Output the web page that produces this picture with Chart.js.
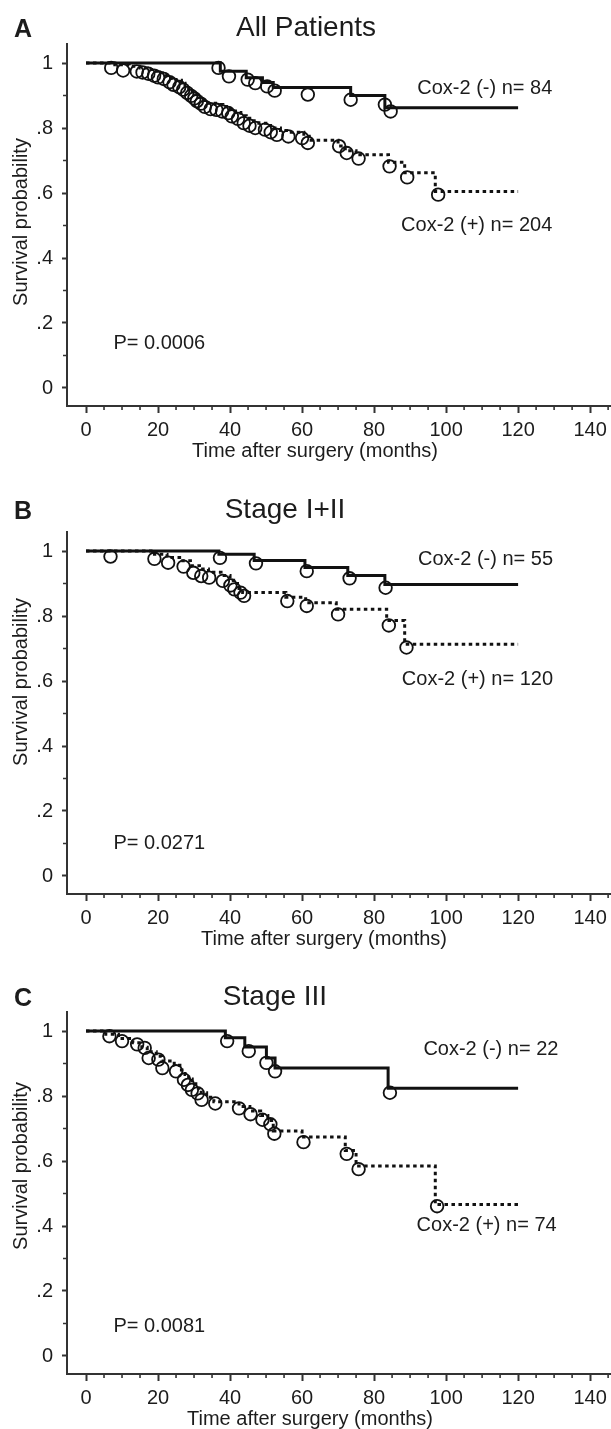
<!DOCTYPE html>
<html>
<head>
<meta charset="utf-8">
<script src="https://cdn.jsdelivr.net/npm/chart.js@4.4.1/dist/chart.umd.min.js"></script>
<style>
  html, body { margin: 0; padding: 0; background: #fff; }
  body { width: 611px; height: 1429px; position: relative; overflow: hidden; }
  .panel { position: absolute; left: 0; width: 611px; height: 461px; }
</style>
</head>
<body>
<div class="panel" style="top:0px"><canvas id="panelA" width="611" height="461"></canvas></div>
<div class="panel" style="top:488px"><canvas id="panelB" width="611" height="461"></canvas></div>
<div class="panel" style="top:968px"><canvas id="panelC" width="611" height="461"></canvas></div>
<script>
// Axis ticks
const timeTicks = [0, 20, 40, 60, 80, 100, 120, 140];
const survTicks = [0, 0.2, 0.4, 0.6, 0.8, 1];

// Panel A - All patients
const aNegTime = [0, 37.3, 44.5, 49, 52, 73.5, 83, 120];
const aNegSurv = [1, 0.975, 0.955, 0.94, 0.925, 0.90, 0.862, 0.862];
const aNegCensorTime = [36.8, 39.7, 44.9, 47.0, 50.3, 52.4, 61.6, 73.5, 83.0, 84.6];
const aNegCensorSurv = [0.985, 0.959, 0.949, 0.938, 0.928, 0.915, 0.903, 0.887, 0.872, 0.851];
const aPosTime = [0, 8, 12, 15, 17, 19, 20.5, 22, 23.5, 25, 26.5, 27.5, 28.5, 29.5, 30.5, 31.5, 32.5, 34, 36, 38, 40, 41.5, 43, 44.5, 46, 48, 50.5, 52, 54, 57, 60.5, 62, 70, 72, 75, 84, 88.5, 97, 120];
const aPosSurv = [1, 0.995, 0.99, 0.985, 0.98, 0.975, 0.97, 0.962, 0.955, 0.947, 0.938, 0.93, 0.92, 0.912, 0.903, 0.895, 0.885, 0.876, 0.872, 0.866, 0.858, 0.848, 0.838, 0.83, 0.822, 0.815, 0.808, 0.8, 0.792, 0.787, 0.775, 0.762, 0.745, 0.73, 0.718, 0.695, 0.662, 0.605, 0.605];
const aPosCensorTime = [7.0, 10.3, 14.1, 15.7, 17.3, 18.9, 20.0, 21.6, 23.2, 24.3, 25.9, 27.0, 28.1, 29.2, 30.1, 30.8, 31.9, 33.0, 34.6, 36.2, 37.8, 39.5, 40.5, 42.2, 43.8, 45.4, 47.0, 49.7, 51.3, 53.0, 56.2, 60.0, 61.6, 70.3, 72.4, 75.7, 84.3, 89.2, 97.8];
const aPosCensorSurv = [0.985, 0.977, 0.974, 0.971, 0.967, 0.961, 0.956, 0.951, 0.941, 0.933, 0.926, 0.918, 0.908, 0.899, 0.891, 0.883, 0.875, 0.865, 0.858, 0.856, 0.851, 0.846, 0.836, 0.828, 0.815, 0.807, 0.800, 0.795, 0.787, 0.779, 0.774, 0.769, 0.754, 0.744, 0.723, 0.706, 0.682, 0.648, 0.595];

// Panel B - Stage I+II
const bNegTime = [0, 36.9, 46.7, 60.8, 72.7, 83.0, 120];
const bNegSurv = [1, 0.99, 0.971, 0.949, 0.925, 0.897, 0.897];
const bNegCensorTime = [37.2, 47.2, 61.3, 73.2, 83.2];
const bNegCensorSurv = [0.979, 0.962, 0.938, 0.916, 0.887];
const bPosTime = [0, 19, 22.5, 26, 29, 31.5, 34, 37.5, 40, 41, 42.5, 43.5, 55.5, 61, 69.5, 83.5, 88.5, 120];
const bPosSurv = [1, 0.99, 0.98, 0.97, 0.955, 0.945, 0.935, 0.925, 0.91, 0.9, 0.885, 0.872, 0.858, 0.841, 0.821, 0.786, 0.713, 0.713];
const bPosCensorTime = [6.8, 19.0, 22.8, 27.1, 29.8, 32.0, 34.2, 38.0, 40.1, 41.2, 42.9, 43.9, 55.9, 61.3, 70.0, 84.1, 89.0];
const bPosCensorSurv = [0.983, 0.976, 0.964, 0.952, 0.933, 0.923, 0.918, 0.908, 0.894, 0.882, 0.872, 0.862, 0.846, 0.831, 0.805, 0.771, 0.703];

// Panel C - Stage III
const cNegTime = [0, 38.7, 44.1, 50.1, 52.5, 83.9, 120];
const cNegSurv = [1, 0.979, 0.951, 0.917, 0.886, 0.824, 0.824];
const cNegCensorTime = [39.2, 45.2, 50.1, 52.5, 84.4];
const cNegCensorSurv = [0.969, 0.938, 0.902, 0.876, 0.810];
const cPosTime = [0, 5.5, 9, 13, 15.5, 17, 19.5, 21, 24.5, 26.5, 27.5, 28.5, 29.5, 30.5, 32, 33.5, 35.5, 42.5, 45.5, 48.5, 50.5, 52, 60, 72, 75, 97, 120];
const cPosSurv = [1, 0.99, 0.977, 0.964, 0.95, 0.936, 0.922, 0.908, 0.895, 0.88, 0.866, 0.852, 0.838, 0.824, 0.81, 0.796, 0.782, 0.768, 0.754, 0.74, 0.725, 0.692, 0.674, 0.632, 0.585, 0.466, 0.466];
const cPosCensorTime = [6.5, 10.0, 14.2, 16.3, 17.4, 20.1, 21.2, 25.0, 27.2, 28.3, 29.4, 31.0, 32.1, 35.9, 42.5, 45.7, 49.0, 51.2, 52.3, 60.4, 72.4, 75.7, 97.5];
const cPosCensorSurv = [0.984, 0.969, 0.959, 0.948, 0.917, 0.912, 0.886, 0.876, 0.850, 0.834, 0.819, 0.808, 0.788, 0.777, 0.762, 0.744, 0.727, 0.713, 0.684, 0.658, 0.622, 0.575, 0.461];

const FONT = '"Liberation Sans", Arial, Helvetica, sans-serif';
const INK = '#1c1c1c';
const AXIS = '#333';

function toPoints(xs, ys) {
    return xs.map((x, i) => ({ x: x, y: ys[i] }));
}

// draws minor ticks, headings, axis titles and curve labels
const panelText = {
    id: 'panelText',
    afterDraw(chart, args, opts) {
        const ctx = chart.ctx;
        const xs = chart.scales.x;
        const ys = chart.scales.y;
        const area = chart.chartArea;
        ctx.save();

        ctx.strokeStyle = AXIS;
        ctx.lineWidth = 1.6;
        ctx.beginPath();
        for (let v = 5; v <= 145; v += 5) {
            if (v % 20 === 0) continue;
            const px = xs.getPixelForValue(v);
            ctx.moveTo(px, area.bottom);
            ctx.lineTo(px, area.bottom + 4);
        }
        for (let v = 0.1; v < 1; v += 0.2) {
            const py = ys.getPixelForValue(v);
            ctx.moveTo(area.left, py);
            ctx.lineTo(area.left - 4, py);
        }
        ctx.stroke();

        ctx.fillStyle = INK;
        ctx.textBaseline = 'alphabetic';
        ctx.font = 'bold 25px ' + FONT;
        ctx.textAlign = 'left';
        ctx.fillText(opts.letter, 14, opts.headY);
        ctx.font = '28px ' + FONT;
        ctx.textAlign = 'center';
        ctx.fillText(opts.title, opts.titleX, opts.headY - 1);

        ctx.font = '20px ' + FONT;
        ctx.fillText('Time after surgery (months)', opts.xTitleX, 457);
        ctx.save();
        ctx.translate(21, opts.yTitleY);
        ctx.rotate(-Math.PI / 2);
        ctx.textBaseline = 'middle';
        ctx.fillText('Survival probability', 0, 0);
        ctx.restore();

        ctx.textBaseline = 'middle';
        opts.labels.forEach(l => {
            ctx.textAlign = l.align;
            ctx.fillText(l.text, xs.getPixelForValue(l.x), ys.getPixelForValue(l.y));
        });
        ctx.restore();
    }
};

function makePanel(id, neg, negCensor, pos, posCensor, text) {
    const ctx = document.getElementById(id);
    return new Chart(ctx, {
        type: 'line',
        data: {
            datasets: [{
                data: neg,
                stepped: true,
                borderColor: '#111',
                borderWidth: 3,
                pointRadius: 0,
                fill: false
            }, {
                data: pos,
                stepped: true,
                borderColor: '#111',
                borderWidth: 3,
                borderDash: [3.5, 3.5],
                pointRadius: 0,
                fill: false
            }, {
                data: negCensor,
                showLine: false,
                pointStyle: 'circle',
                pointRadius: 6.3,
                pointBorderWidth: 1.8,
                pointBorderColor: '#111',
                pointBackgroundColor: 'rgba(0,0,0,0)'
            }, {
                data: posCensor,
                showLine: false,
                pointStyle: 'circle',
                pointRadius: 6.3,
                pointBorderWidth: 1.8,
                pointBorderColor: '#111',
                pointBackgroundColor: 'rgba(0,0,0,0)'
            }]
        },
        options: {
            responsive: false,
            animation: false,
            events: [],
            layout: { autoPadding: false, padding: { top: 44, left: 0, right: 0, bottom: 0 } },
            plugins: {
                legend: { display: false },
                tooltip: { enabled: false },
                panelText: text
            },
            scales: {
                x: {
                    type: 'linear',
                    min: -5.28,
                    max: 145.8,
                    afterBuildTicks: s => { s.ticks = timeTicks.map(v => ({ value: v })); },
                    afterFit: s => {
                        s.height = 55;
                        s.paddingLeft = 0;
                        s.paddingRight = 0;
                    },
                    grid: { drawOnChartArea: false, tickLength: 7, tickWidth: 2, tickColor: AXIS },
                    border: { width: 2, color: AXIS },
                    ticks: {
                        color: INK,
                        font: { family: FONT, size: 20 },
                        padding: 5,
                        maxRotation: 0,
                        autoSkip: false
                    }
                },
                y: {
                    type: 'linear',
                    min: -0.0554,
                    max: 1.0585,
                    afterBuildTicks: s => { s.ticks = survTicks.map(v => ({ value: v })); },
                    afterFit: s => {
                        s.width = 67;
                        s.paddingTop = 0;
                        s.paddingBottom = 0;
                    },
                    grid: { drawOnChartArea: false, tickLength: 5, tickWidth: 2, tickColor: AXIS },
                    border: { width: 2, color: AXIS },
                    ticks: {
                        color: INK,
                        font: { family: FONT, size: 20 },
                        padding: 9,
                        callback: v => (v === 0 || v === 1) ? String(v) : String(Math.round(v * 10) / 10).replace('0.', '.')
                    }
                }
            }
        },
        plugins: [panelText]
    });
}

makePanel('panelA',
    toPoints(aNegTime, aNegSurv), toPoints(aNegCensorTime, aNegCensorSurv),
    toPoints(aPosTime, aPosSurv), toPoints(aPosCensorTime, aPosCensorSurv),
    {
        letter: 'A', title: 'All Patients', headY: 37, titleX: 306, xTitleX: 315, yTitleY: 222,
        labels: [
            { text: 'Cox-2 (-) n= 84', x: 129.5, y: 0.923, align: 'right' },
            { text: 'Cox-2 (+) n= 204', x: 129.5, y: 0.501, align: 'right' },
            { text: 'P= 0.0006', x: 7.6, y: 0.136, align: 'left' }
        ]
    });

makePanel('panelB',
    toPoints(bNegTime, bNegSurv), toPoints(bNegCensorTime, bNegCensorSurv),
    toPoints(bPosTime, bPosSurv), toPoints(bPosCensorTime, bPosCensorSurv),
    {
        letter: 'B', title: 'Stage I+II', headY: 31, titleX: 285, xTitleX: 324, yTitleY: 194,
        labels: [
            { text: 'Cox-2 (-) n= 55', x: 129.7, y: 0.974, align: 'right' },
            { text: 'Cox-2 (+) n= 120', x: 129.7, y: 0.605, align: 'right' },
            { text: 'P= 0.0271', x: 7.6, y: 0.099, align: 'left' }
        ]
    });

makePanel('panelC',
    toPoints(cNegTime, cNegSurv), toPoints(cNegCensorTime, cNegCensorSurv),
    toPoints(cPosTime, cPosSurv), toPoints(cPosCensorTime, cPosCensorSurv),
    {
        letter: 'C', title: 'Stage III', headY: 38, titleX: 275, xTitleX: 310, yTitleY: 198,
        labels: [
            { text: 'Cox-2 (-) n= 22', x: 131.2, y: 0.943, align: 'right' },
            { text: 'Cox-2 (+) n= 74', x: 130.7, y: 0.403, align: 'right' },
            { text: 'P= 0.0081', x: 7.6, y: 0.092, align: 'left' }
        ]
    });
</script>
</body>
</html>
